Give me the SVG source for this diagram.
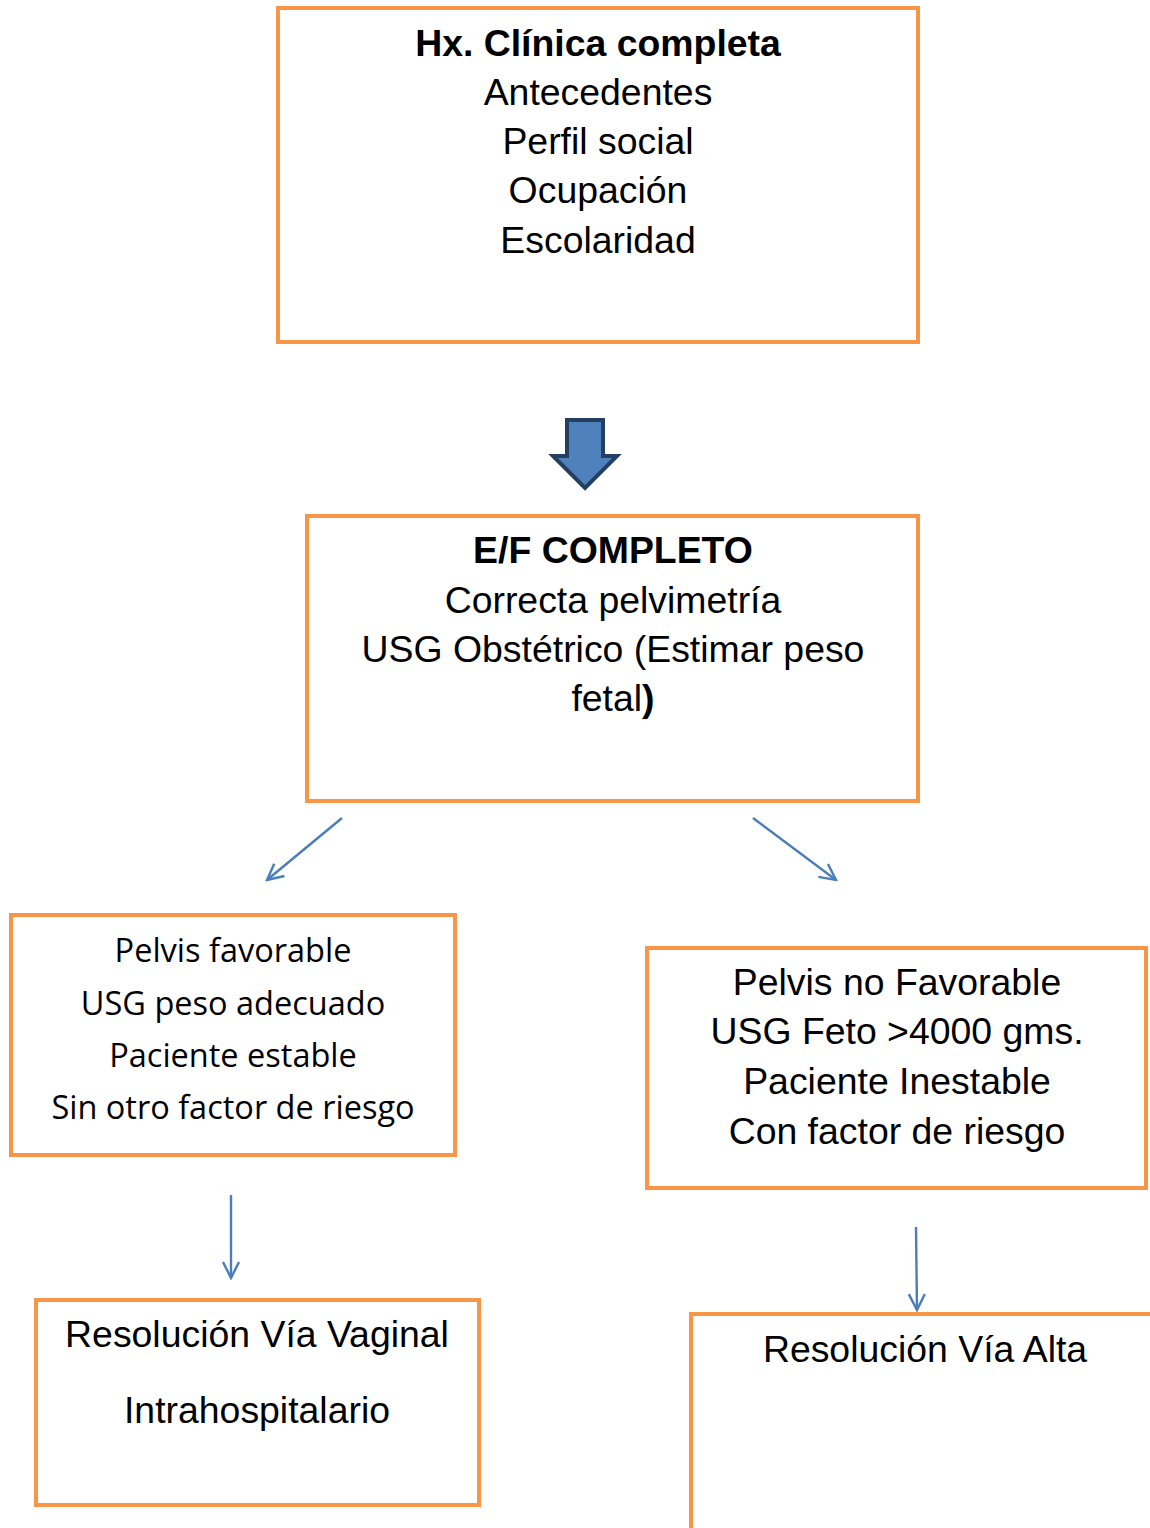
<svg xmlns="http://www.w3.org/2000/svg" width="1150" height="1528" viewBox="0 0 1150 1528">
<defs>
<style>
.box{fill:#fff;stroke:#F79646;stroke-width:4}
.t{font-family:"Liberation Sans",Arial,sans-serif;font-size:37.4px;fill:#000;text-anchor:middle}
.b{font-weight:bold}
.c{font-family:"Open Sans","Noto Sans",sans-serif;font-size:32.5px;fill:#000;text-anchor:middle}
.con{stroke:#4A7EBB;stroke-width:2.4;fill:none}
</style>
<marker id="ah" viewBox="0 0 20 20" refX="18" refY="10" markerWidth="20" markerHeight="20" markerUnits="userSpaceOnUse" orient="auto">
<path d="M2,2 L18,10 L2,18" fill="none" stroke="#4A7EBB" stroke-width="2.4"/>
</marker>
</defs>
<rect width="1150" height="1528" fill="#fff"/>
<g id="n1">
<rect class="box" x="278" y="8" width="640" height="334"/>
<text class="t b" x="598" y="56">Hx. Clínica completa</text>
<text class="t" x="598" y="105">Antecedentes</text>
<text class="t" x="598" y="154">Perfil social</text>
<text class="t" x="598" y="203">Ocupación</text>
<text class="t" x="598" y="253">Escolaridad</text>
</g>
<g id="n2">
<rect class="box" x="307" y="516" width="611" height="285"/>
<text class="t b" x="613" y="563">E/F COMPLETO</text>
<text class="t" x="613" y="613">Correcta pelvimetría</text>
<text class="t" x="613" y="662">USG Obstétrico (Estimar peso</text>
<text class="t" x="613" y="711">fetal<tspan class="b">)</tspan></text>
</g>
<g id="n3">
<rect class="box" x="11" y="915" width="444" height="240"/>
<text class="c" x="233" y="962">Pelvis favorable</text>
<text class="c" x="233" y="1015">USG peso adecuado</text>
<text class="c" x="233" y="1067">Paciente estable</text>
<text class="c" x="233" y="1119">Sin otro factor de riesgo</text>
</g>
<g id="n4">
<rect class="box" x="647" y="948" width="499" height="240"/>
<text class="t" x="897" y="995">Pelvis no Favorable</text>
<text class="t" x="897" y="1044">USG Feto &gt;4000 gms.</text>
<text class="t" x="897" y="1094">Paciente Inestable</text>
<text class="t" x="897" y="1144">Con factor de riesgo</text>
</g>
<g id="n5">
<rect class="box" x="36" y="1300" width="443" height="205"/>
<text class="t" x="257" y="1347">Resolución Vía Vaginal</text>
<text class="t" x="257" y="1423">Intrahospitalario</text>
</g>
<g id="n6">
<rect class="box" x="691" y="1314" width="480" height="240"/>
<text class="t" x="925" y="1362">Resolución Vía Alta</text>
</g>
<g id="connectors">
<path d="M567,420 H603 V456 H617 L585,488 L553,456 H567 Z" fill="#4F81BD" stroke="#243F60" stroke-width="4" stroke-linejoin="miter"/>
<line class="con" x1="342" y1="818" x2="267" y2="880" marker-end="url(#ah)"/>
<line class="con" x1="753" y1="818" x2="836" y2="880" marker-end="url(#ah)"/>
<line class="con" x1="231" y1="1195" x2="231" y2="1278" marker-end="url(#ah)"/>
<line class="con" x1="916" y1="1227" x2="917" y2="1310" marker-end="url(#ah)"/>
</g>
</svg>
